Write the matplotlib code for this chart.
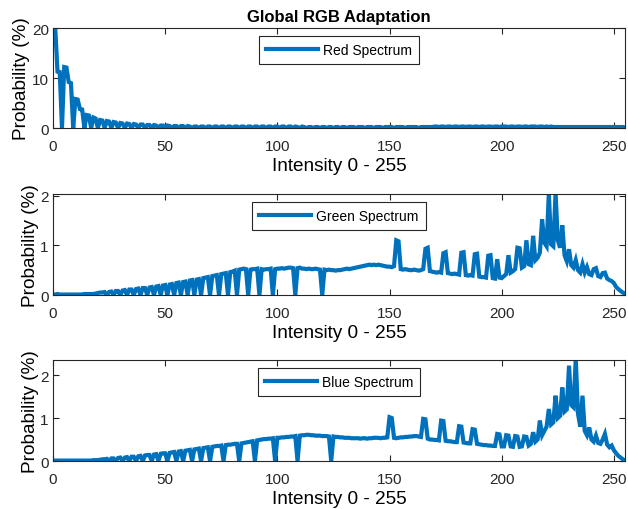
#!/usr/bin/env python3
"""Global RGB adaptation: per-channel intensity histograms (3 stacked panels)."""

import numpy as np
import matplotlib

matplotlib.use("Agg")
import matplotlib.pyplot as plt

LINE_COLOR = "#0072BD"
AXIS_COLOR = "#262626"
XLABEL = "Intensity 0 - 255"
YLABEL = "Probability (%)"
TITLE = "Global RGB Adaptation"

# Probability (%) per intensity bin 0..255.
red_spectrum = [
    20.5, 20.0, 11.3, 11.2, 0, 12.2, 12.1, 9.2, 9.0, 0, 5.8, 5.7, 3.8, 3.7, 0, 2.6,
    2.5, 0, 2.1, 1.9, 0, 1.6, 1.5, 0, 1.4, 1.3, 0, 1.2, 1.1, 0, 1.0, 0.9,
    0, 0.9, 0.8, 0, 0.8, 0.7, 0, 0.7, 0.7, 0, 0.6, 0.6, 0, 0.6, 0.5, 0,
    0.5, 0.5, 0, 0.5, 0.4, 0, 0.4, 0.4, 0, 0.4, 0.4, 0, 0.4, 0.3, 0, 0.3,
    0.3, 0, 0.3, 0.3, 0, 0.3, 0.3, 0, 0.3, 0.3, 0, 0.3, 0.3, 0, 0.3, 0.3,
    0, 0.3, 0.3, 0, 0.3, 0.3, 0, 0.3, 0.3, 0, 0.3, 0.3, 0, 0.3, 0.3, 0,
    0.3, 0.3, 0, 0.3, 0.3, 0, 0.3, 0.3, 0, 0.3, 0.3, 0, 0.3, 0.2, 0, 0.3,
    0.2, 0, 0.2, 0.2, 0, 0.2, 0.2, 0, 0.2, 0.2, 0, 0.2, 0.2, 0, 0.2, 0.2,
    0, 0.2, 0.2, 0, 0.2, 0.2, 0.2, 0, 0.2, 0.2, 0.2, 0, 0.2, 0.2, 0.2, 0,
    0.2, 0.2, 0.2, 0, 0.2, 0.2, 0.2, 0.2, 0, 0.2, 0.2, 0.2, 0.2, 0, 0.2, 0.2,
    0.2, 0.2, 0.2, 0, 0.2, 0.2, 0.2, 0.2, 0.2, 0.2, 0.3, 0.3, 0.2, 0.3, 0.3, 0.2,
    0.3, 0.3, 0.2, 0.3, 0.3, 0.2, 0.3, 0.3, 0.2, 0.3, 0.3, 0.2, 0.3, 0.3, 0.2, 0.3,
    0.3, 0.2, 0.3, 0.3, 0.2, 0.3, 0.3, 0.2, 0.3, 0.3, 0.3, 0.2, 0.3, 0.3, 0.2, 0.3,
    0.3, 0.2, 0.3, 0.3, 0.2, 0.3, 0.3, 0.3, 0.2, 0.3, 0.3, 0.2, 0.3, 0.2, 0.3, 0.2,
    0.2, 0.2, 0.2, 0.2, 0.2, 0.2, 0.2, 0.2, 0.2, 0.2, 0.2, 0.2, 0.2, 0.2, 0.2, 0.2,
    0.2, 0.2, 0.2, 0.2, 0.2, 0.2, 0.2, 0.2, 0.2, 0.2, 0.2, 0.2, 0.2, 0.2, 0.2, 0.1,
]

green_spectrum = [
    0.01, 0.01, 0.02, 0.01, 0.01, 0.01, 0.01, 0.01, 0.01, 0.01, 0.01, 0.01, 0.01, 0.01, 0.02, 0.02,
    0.02, 0.02, 0.02, 0.03, 0.04, 0.05, 0.05, 0.06, 0, 0.06, 0.07, 0, 0.08, 0.08, 0, 0.09,
    0.10, 0, 0.11, 0.11, 0, 0.12, 0.13, 0, 0.14, 0.14, 0, 0.15, 0.16, 0, 0.17, 0.18,
    0, 0.19, 0.20, 0, 0.21, 0.22, 0, 0.24, 0.25, 0, 0.26, 0.27, 0, 0.29, 0.30, 0,
    0.31, 0.32, 0, 0.34, 0.35, 0.36, 0, 0.38, 0.39, 0.40, 0, 0.42, 0.43, 0.44, 0, 0.46,
    0.47, 0.49, 0, 0.51, 0.52, 0.53, 0.52, 0, 0.51, 0.52, 0.52, 0.53, 0, 0.52, 0.51, 0.52,
    0.52, 0.53, 0, 0.52, 0.53, 0.53, 0.54, 0.53, 0.54, 0.55, 0.55, 0.54, 0, 0.54, 0.55, 0.53,
    0.53, 0.52, 0.53, 0.52, 0.52, 0.53, 0.52, 0.51, 0, 0.51, 0.50, 0.51, 0.50, 0.50, 0.49, 0.50,
    0.50, 0.51, 0.52, 0.53, 0.52, 0.53, 0.54, 0.55, 0.56, 0.57, 0.58, 0.59, 0.60, 0.61, 0.60, 0.61,
    0.60, 0.61, 0.60, 0.59, 0.58, 0.57, 0.57, 0.56, 0.58, 1.10, 1.08, 0.52, 0.51, 0.52, 0.51, 0.50,
    0.50, 0.51, 0.50, 0.49, 0.50, 0.52, 0.93, 0.95, 0.48, 0.47, 0.46, 0.45, 0.46, 0.45, 0.84, 0.86,
    0.44, 0.43, 0.42, 0.43, 0.42, 0.41, 0.85, 0.86, 0.40, 0.39, 0.40, 0.39, 0.82, 0.83, 0.37, 0.36,
    0.36, 0.35, 0.79, 0.80, 0.34, 0.33, 0.72, 0.35, 0.34, 0.38, 0.42, 0.80, 0.45, 0.48, 0.52, 0.95,
    0.94, 0.55, 0.58, 1.10, 0.62, 0.60, 1.19, 0.70, 0.75, 0.85, 1.52, 1.05, 0.98, 2.05, 1.02, 0.98,
    2.05, 1.10, 0.95, 1.40, 0.80, 0.68, 0.92, 0.60, 0.55, 0.70, 0.50, 0.45, 0.62, 0.45, 0.56, 0.42,
    0.40, 0.52, 0.54, 0.38, 0.36, 0.44, 0.45, 0.33, 0.30, 0.28, 0.24, 0.16, 0.12, 0.08, 0.05, 0.02,
]

blue_spectrum = [
    0.01, 0.01, 0.01, 0.01, 0.01, 0.01, 0.01, 0.01, 0.01, 0.01, 0.01, 0.01, 0.01, 0.01, 0.01, 0.01,
    0.01, 0.01, 0.02, 0.02, 0.02, 0.03, 0.04, 0.04, 0.05, 0, 0.06, 0.06, 0, 0.07, 0.08, 0,
    0.08, 0.09, 0, 0.10, 0.10, 0, 0.11, 0.12, 0, 0.13, 0.14, 0.14, 0, 0.15, 0.16, 0,
    0.17, 0.18, 0.18, 0, 0.19, 0.20, 0.21, 0, 0.22, 0.23, 0, 0.24, 0.25, 0.26, 0, 0.27,
    0.28, 0.29, 0, 0.30, 0.31, 0.32, 0, 0.33, 0.34, 0.35, 0.35, 0.36, 0, 0.37, 0.38, 0.38,
    0.39, 0.40, 0.40, 0, 0.41, 0.42, 0.43, 0.44, 0.45, 0.46, 0, 0.48, 0.49, 0.50, 0.51, 0.51,
    0.52, 0.52, 0.53, 0, 0.54, 0.54, 0.55, 0.55, 0.56, 0.56, 0.57, 0.57, 0.58, 0, 0.59, 0.60,
    0.60, 0.61, 0.61, 0.60, 0.60, 0.59, 0.59, 0.59, 0.58, 0.58, 0.58, 0.57, 0, 0.57, 0.56, 0.56,
    0.55, 0.55, 0.54, 0.54, 0.54, 0.53, 0.53, 0.53, 0.53, 0.52, 0.53, 0.53, 0.52, 0.53, 0.53, 0.54,
    0.54, 0.54, 0.53, 0.54, 0.54, 0.55, 1.02, 1.00, 0.54, 0.53, 0.54, 0.55, 0.55, 0.56, 0.56, 0.57,
    0.57, 0.58, 0.58, 0.57, 0.56, 0.98, 0.97, 0.52, 0.50, 0.50, 0.49, 0.49, 0.48, 0.94, 0.93, 0.47,
    0.46, 0.46, 0.45, 0.44, 0.44, 0.81, 0.80, 0.43, 0.42, 0.41, 0.41, 0.74, 0.73, 0.40, 0.39, 0.38,
    0.37, 0.37, 0.36, 0.36, 0.35, 0.35, 0.63, 0.62, 0.34, 0.34, 0.60, 0.59, 0.34, 0.33, 0.58, 0.57,
    0.33, 0.34, 0.57, 0.56, 0.36, 0.40, 0.67, 0.45, 0.50, 0.94, 0.60, 0.70, 0.80, 1.21, 0.85, 0.90,
    1.52, 1.00, 1.05, 1.71, 1.15, 1.20, 2.22, 1.30, 1.25, 2.38, 1.10, 0.80, 1.52, 0.70, 0.60, 0.78,
    0.50, 0.45, 0.59, 0.42, 0.40, 0.50, 0.63, 0.38, 0.32, 0.36, 0.25, 0.18, 0.12, 0.08, 0.04, 0.01,
]

PANELS = [
    ("Red Spectrum", red_spectrum, 20.0, [0, 10, 20]),
    ("Green Spectrum", green_spectrum, 2.03, [0, 1, 2]),
    ("Blue Spectrum", blue_spectrum, 2.35, [0, 1, 2]),
]

# axes rectangles in figure fractions (left, bottom, width, height)
AXES_RECTS = [
    (0.0844, 0.747, 0.911, 0.196),
    (0.0844, 0.4196, 0.911, 0.198),
    (0.0844, 0.0941, 0.911, 0.198),
]

plt.rcParams["font.family"] = ["Liberation Sans", "DejaVu Sans"]


def style_axes(ax, ymax, yticks):
    ax.set_xlim(0, 255)
    ax.set_ylim(0, ymax)
    ax.set_xticks([0, 50, 100, 150, 200, 250])
    ax.set_yticks(yticks)
    ax.tick_params(direction="in", top=True, right=True, length=4, width=0.8,
                   labelsize=11, colors=AXIS_COLOR)
    ax.tick_params(axis="x", pad=8)
    ax.tick_params(axis="y", pad=3)
    for spine in ax.spines.values():
        spine.set_color(AXIS_COLOR)
        spine.set_linewidth(0.8)
    ax.set_xlabel(XLABEL, fontsize=13.7, color="black", labelpad=3)
    ax.set_ylabel(YLABEL, fontsize=13.7, color="black", labelpad=1)


fig = plt.figure(figsize=(6.28, 5.10), dpi=100)

for idx, (label, values, ymax, yticks) in enumerate(PANELS):
    ax = fig.add_axes(AXES_RECTS[idx])
    x = np.arange(len(values))
    ax.plot(x, values, color=LINE_COLOR, linewidth=3.0, label=label,
            solid_joinstyle="miter")
    style_axes(ax, ymax, yticks)
    leg = ax.legend(loc="upper center", fontsize=10, handlelength=3.75,
                    fancybox=False, framealpha=1, borderpad=0.5,
                    handletextpad=0.35, borderaxespad=0.6)
    leg.get_frame().set_edgecolor(AXIS_COLOR)
    leg.get_frame().set_linewidth(0.8)
    if idx == 0:
        ax.set_title(TITLE, fontsize=12, fontweight="bold", pad=5)

fig.savefig("out.png", dpi=100)
